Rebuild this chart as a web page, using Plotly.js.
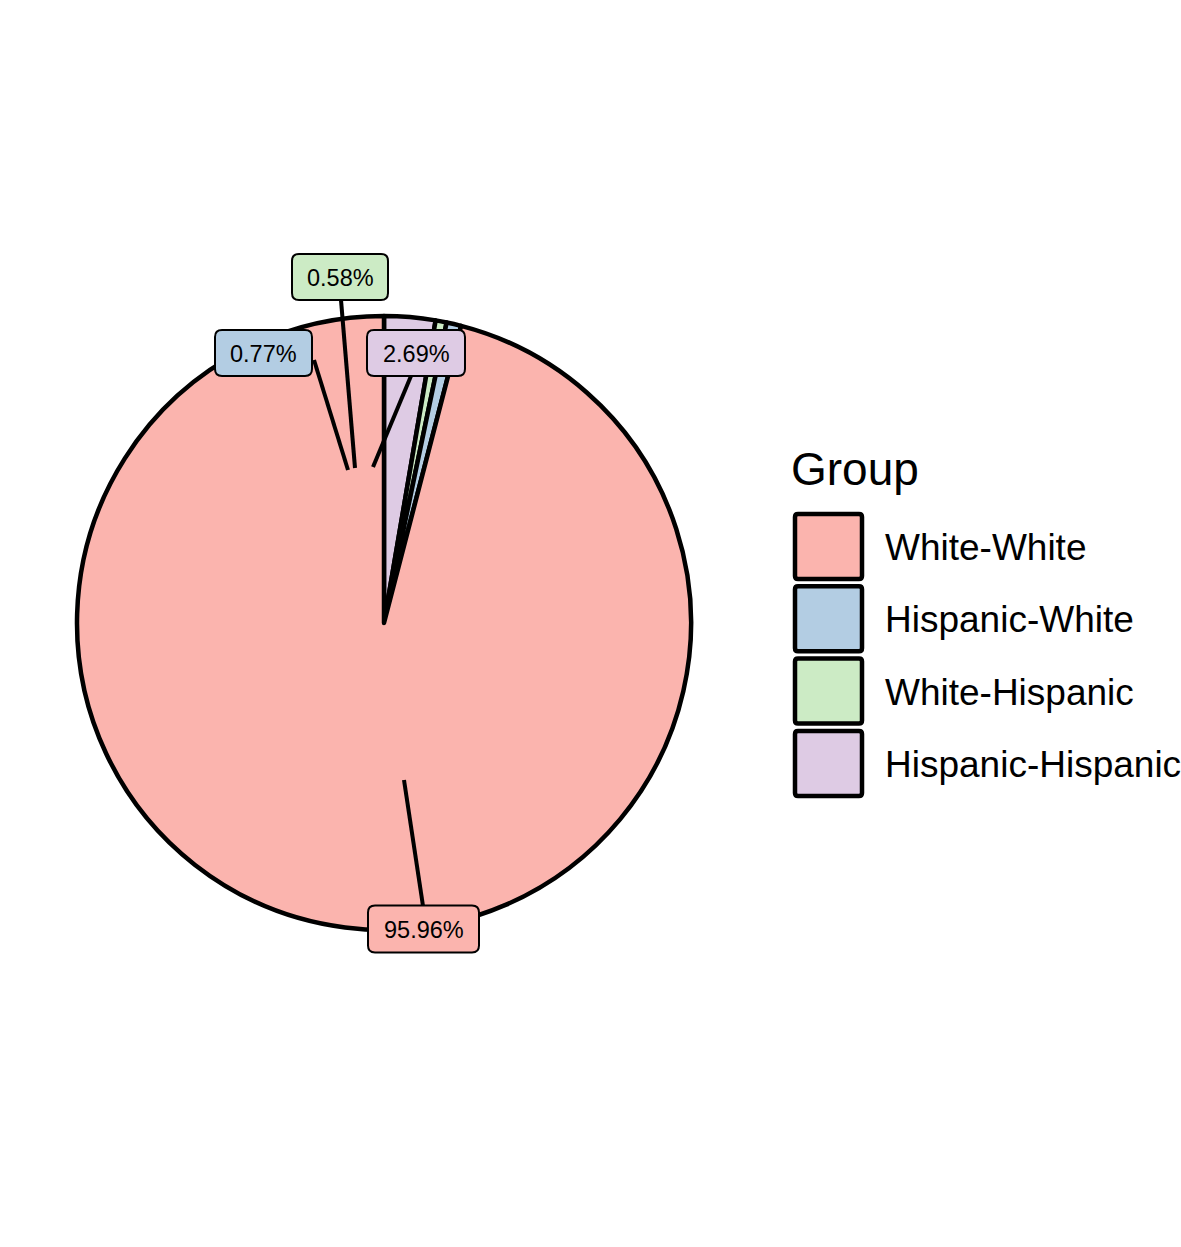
<!DOCTYPE html>
<html><head><meta charset="utf-8">
<script src="https://cdn.plot.ly/plotly-3.0.1.min.js"></script>
<style>html,body{margin:0;padding:0;background:#fff}#chart{width:1181px;height:1247px}</style>
</head><body><div id="chart"></div>
<script>
// ---- data ----
const groups = ["White-White", "Hispanic-White", "White-Hispanic", "Hispanic-Hispanic"];
const shares = [95.96, 0.77, 0.58, 2.69];
const colors = ["#FBB4AE", "#B3CDE3", "#CCEBC5", "#DECBE4"];
const legendTitle = "Group";

// ---- layout helpers (pixel -> paper) ----
const W = 1181, H = 1247;
const px = x => x / W;
const py = y => 1 - y / H;
const FONT = "Liberation Sans, Arial, sans-serif";

// label boxes (repelled positions) and leader segments, in pixels
const labelPlacement = [
  {cx: 423.5, cy: 929, w: 111, h: 47, from: [404, 780], to: [423, 906]},
  {cx: 263.5, cy: 353, w: 97, h: 46, from: [348, 470], to: [314, 360]},
  {cx: 340, cy: 277, w: 96, h: 46, from: [355, 468], to: [341, 300]},
  {cx: 416, cy: 353, w: 98, h: 46, from: [373, 467], to: [411, 376]}
];

function roundRectPath(cx, cy, w, h, r) {
  const x0 = cx - w / 2, x1 = cx + w / 2, y0 = cy - h / 2, y1 = cy + h / 2;
  const P = (x, y) => px(x).toFixed(5) + "," + py(y).toFixed(5);
  return "M" + P(x0 + r, y0) + " L" + P(x1 - r, y0) + " Q" + P(x1, y0) + " " + P(x1, y0 + r) +
    " L" + P(x1, y1 - r) + " Q" + P(x1, y1) + " " + P(x1 - r, y1) +
    " L" + P(x0 + r, y1) + " Q" + P(x0, y1) + " " + P(x0, y1 - r) +
    " L" + P(x0, y0 + r) + " Q" + P(x0, y0) + " " + P(x0 + r, y0) + " Z";
}

const shapes = [];
const annotations = [];

// leader lines
labelPlacement.forEach(p => {
  shapes.push({type: "line", xref: "paper", yref: "paper",
    x0: px(p.from[0]), y0: py(p.from[1]), x1: px(p.to[0]), y1: py(p.to[1]),
    line: {color: "#000", width: 4}});
});
// label boxes + text
labelPlacement.forEach((p, i) => {
  shapes.push({type: "path", xref: "paper", yref: "paper",
    path: roundRectPath(p.cx, p.cy, p.w, p.h, 7),
    fillcolor: colors[i], line: {color: "#000", width: 2}});
  annotations.push({xref: "paper", yref: "paper", x: px(p.cx), y: py(p.cy + 1),
    xanchor: "center", yanchor: "middle", showarrow: false,
    text: shares[i].toFixed(2) + "%", font: {family: FONT, size: 23.5, color: "#000"}});
});

// manual legend
const keyX0 = 795, keyX1 = 862, keyY0 = 514, keyPitch = 72.3, keyH = 65;
annotations.push({xref: "paper", yref: "paper", x: px(789), y: py(469),
  xanchor: "left", yanchor: "middle", showarrow: false,
  text: legendTitle, font: {family: FONT, size: 46, color: "#000"}});
groups.forEach((g, i) => {
  const y0 = keyY0 + i * keyPitch, y1 = y0 + keyH;
  shapes.push({type: "path", xref: "paper", yref: "paper",
    path: roundRectPath((keyX0 + keyX1) / 2, (y0 + y1) / 2, keyX1 - keyX0, keyH, 3),
    fillcolor: colors[i], line: {color: "#000", width: 4.5}});
  annotations.push({xref: "paper", yref: "paper", x: px(882.5), y: py((y0 + y1) / 2 + 1),
    xanchor: "left", yanchor: "middle", showarrow: false,
    text: g, font: {family: FONT, size: 37, color: "#000"}});
});

// pie drawn clockwise from 12 o'clock, last group first
const order = groups.map((_, i) => i).reverse();
const trace = {
  type: "pie",
  labels: order.map(i => groups[i]),
  values: order.map(i => shares[i]),
  sort: false,
  direction: "clockwise",
  rotation: 0,
  textinfo: "none",
  hoverinfo: "label+percent",
  marker: {colors: order.map(i => colors[i]), line: {color: "#000", width: 4.5}},
  domain: {x: [px(77), px(691)], y: [py(930), py(316)]},
  showlegend: false
};

const layout = {
  width: W, height: H,
  margin: {l: 0, r: 0, t: 0, b: 0},
  paper_bgcolor: "#fff", plot_bgcolor: "#fff",
  showlegend: false,
  shapes: shapes,
  annotations: annotations,
  font: {family: FONT}
};

Plotly.newPlot("chart", [trace], layout, {displayModeBar: false, staticPlot: true});
</script>
</body></html>
